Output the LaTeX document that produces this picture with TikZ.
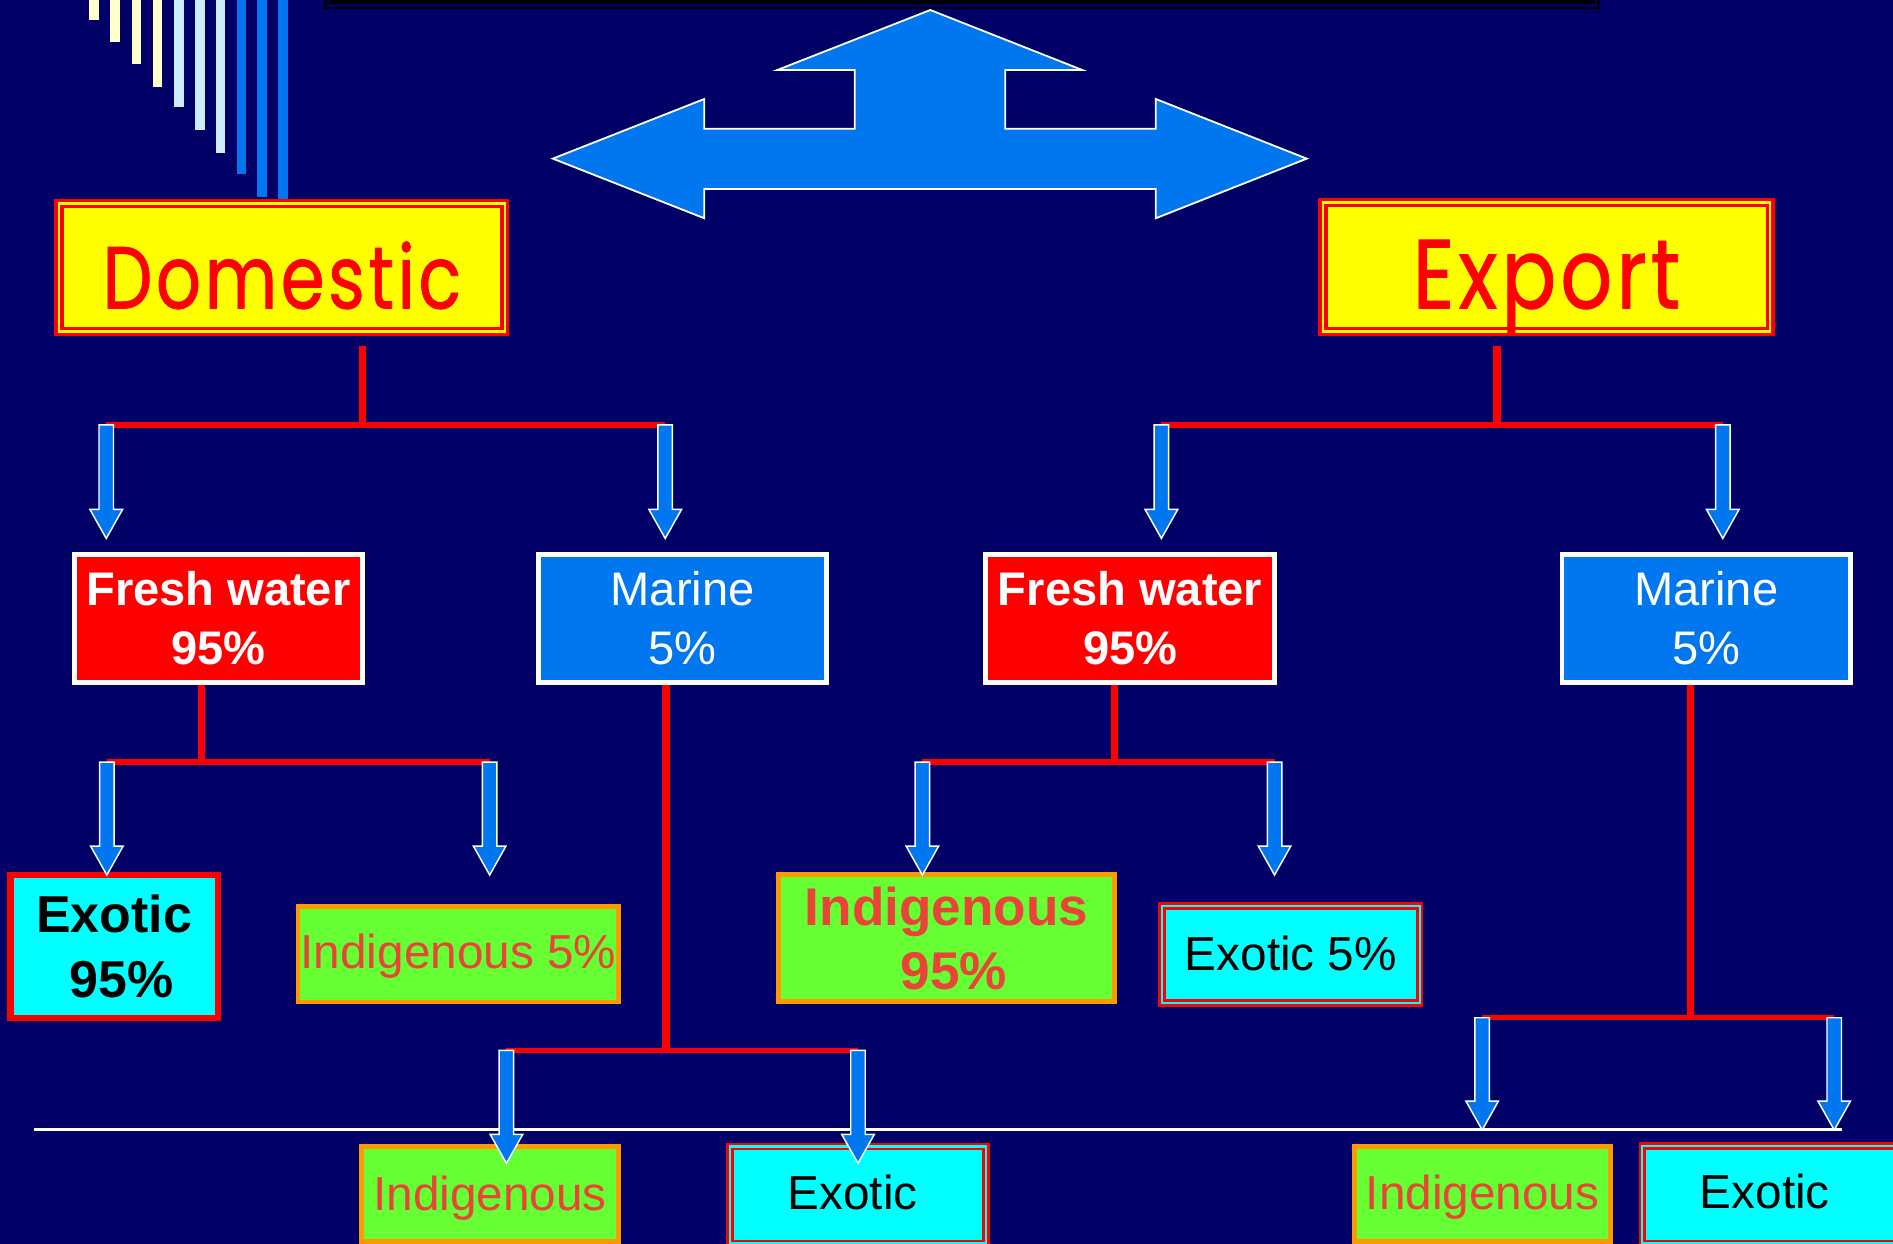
\documentclass[tikz,border=0pt]{standalone}
\usepackage{fontspec}
\setmainfont{Liberation Sans}
\newfontfamily\comicfont[FakeBold=1,LetterSpace=5]{Poppins}
\usepackage{graphicx}
\usetikzlibrary{calc}
\definecolor{navybg}{RGB}{0,0,102}
\definecolor{ablue}{RGB}{0,119,238}
\definecolor{pred}{RGB}{255,0,0}
\definecolor{pcyan}{RGB}{0,255,255}
\definecolor{pgreen}{RGB}{102,255,51}
\definecolor{porange}{RGB}{255,153,0}
\definecolor{itext}{RGB}{232,68,56}
\definecolor{pyellow}{RGB}{255,255,0}
\definecolor{barY}{RGB}{255,255,204}
\definecolor{barB}{RGB}{204,236,255}
\newcommand\blockarrow[2]{\filldraw[blockarr] ($(#1)+(-6,0)$) -- ($(#2)+(-6,-24)$) -- ($(#2)+(-13.5,-24)$) -- (#2) -- ($(#2)+(13.5,-24)$) -- ($(#2)+(6,-24)$) -- ($(#1)+(6,0)$) -- cycle;}
\begin{document}
\begin{tikzpicture}[x=1pt,y=-1pt,
  blockarr/.style={fill=ablue, draw=white, line width=1.2pt, line join=miter},
  redv/.style={draw=pred, line width=6pt},
  redh/.style={draw=pred, line width=4.5pt},
  titlebox/.style={draw=pred, double=pyellow, line width=2.7pt, double distance=2.2pt, fill=pyellow, inner sep=0pt, text=pred},
  fwbox/.style={draw=white, line width=4pt, fill=pred, inner sep=0pt, minimum width=239pt, minimum height=106.4pt, text=white, align=center, font=\fontsize{39}{48.5}\selectfont\bfseries},
  marbox/.style={fwbox, fill=ablue, font=\fontsize{39}{48.5}\selectfont},
  exobox/.style={draw=pred, line width=5pt, fill=pcyan, inner sep=0pt, text=black, align=center, font=\fontsize{43}{54}\selectfont\bfseries},
  indbox/.style={draw=porange, line width=4pt, fill=pgreen, inner sep=0pt, text=itext, font=\fontsize{39.5}{47}\selectfont},
  exodbl/.style={draw=pred, double=pcyan, line width=2.2pt, double distance=1.8pt, fill=pcyan, inner sep=0pt, text=black, font=\fontsize{39.5}{47}\selectfont}
]
\useasboundingbox (0,0) rectangle (1568,1030);
\clip (0,0) rectangle (1568,1030);
\fill[navybg] (0,0) rectangle (1568,1030);

% decorative bars
\foreach \xc/\yb/\col in {78/16.6/barY, 95/34.8/barY, 113/52.8/barY, 130.5/72/barY,
  148/89/barB, 165.5/107.5/barB, 182.5/127/barB,
  200/144/ablue, 217/163/ablue, 234.5/168/ablue}
  \fill[\col] (\xc-4,-5) rectangle (\xc+4,\yb);

% top black bar
\fill[black] (268.5,-10) rectangle (1325,7.7);
\draw[navybg, line width=2pt] (271.7,-10) rectangle (1321.8,4.6);

% big three-way arrow
\filldraw[fill=ablue, draw=white, line width=1.5pt, line join=miter]
  (457.9,131.4) -- (583.4,82) -- (583.4,106.6) -- (708,106.6) -- (708,58)
  -- (643.8,58) -- (770.6,8.3) -- (896.5,58) -- (832.7,58) -- (832.7,106.6)
  -- (957.3,106.6) -- (957.3,82) -- (1082.4,131.4) -- (957.3,180.8)
  -- (957.3,156.5) -- (583.4,156.5) -- (583.4,180.8) -- cycle;

% title boxes
\node[titlebox, minimum width=369.4pt, minimum height=105.9pt, text height=67.6pt, text depth=0pt] (dom) at (233.5,221.7) {\resizebox{297pt}{55.5pt}{\comicfont Domestic}};
\node[titlebox, minimum width=370.4pt, minimum height=106.7pt, text height=68.4pt, text depth=0pt] (exp) at (1281,221.2) {\resizebox{221.6pt}{56.6pt}{\comicfont Export}};

% level 2 boxes
\node[fwbox] (fwd) at (180.9,512.2) {Fresh water\\95\%};
\node[marbox] (mad) at (565.4,512.2) {Marine\\5\%};
\node[fwbox] (fwe) at (936.1,512.2) {Fresh water\\95\%};
\node[marbox] (mae) at (1413.3,512.2) {Marine\\5\%};

% level 3 boxes
\node[exobox, minimum width=171.8pt, minimum height=118.4pt] (exd) at (94.6,783.7) {Exotic\\\hspace*{12pt}95\%};
\node[indbox, minimum width=265.6pt, minimum height=79.1pt, text height=23.3pt, text depth=0pt] (ind5) at (379.7,790.35) {Indigenous 5\%};
\node[indbox, minimum width=278pt, minimum height=105.5pt, align=center, font=\fontsize{44}{53}\selectfont\bfseries] (ind95) at (783.95,777) {Indigenous\\\hspace*{12pt}95\%};
\node[exodbl, minimum width=213.3pt, minimum height=80.2pt, text height=25.8pt, text depth=0pt] (exe5) at (1069.25,790.6) {Exotic 5\%};

% bottom boxes
\node[indbox, minimum width=212.3pt, minimum height=78.8pt, text height=26.6pt, text depth=0pt] (indL) at (405.85,989) {Indigenous};
\node[exodbl, minimum width=212pt, minimum height=80.3pt, text height=23.9pt, text depth=0pt] (exL) at (710.7,989.75) {Exotic\hspace*{9pt}};
\node[indbox, minimum width=212.5pt, minimum height=78.8pt, text height=25.4pt, text depth=0pt] (indR) at (1227.95,989) {Indigenous};
\node[exodbl, minimum width=212pt, minimum height=80.6pt, text height=22.6pt, text depth=0pt] (exR) at (1466.3,989.6) {Exotic\hspace*{9pt}};

% junction coordinates
\coordinate (dtop) at (300,287);   \coordinate (dj) at (300,352);
\coordinate (dL) at (88,352);      \coordinate (dR) at (551,352);
\coordinate (dLt) at (88,446);     \coordinate (dRt) at (551,446);
\coordinate (etop) at (1240,287);  \coordinate (ej) at (1240,352);
\coordinate (eL) at (962,352);     \coordinate (eR) at (1427,352);
\coordinate (eLt) at (962,446);    \coordinate (eRt) at (1427,446);

\coordinate (fwdj) at (167,631.3);
\coordinate (fwdL) at (88.5,631.3);  \coordinate (fwdR) at (405.6,631.3);
\coordinate (fwdLt) at (88.5,724.8); \coordinate (fwdRt) at (405.6,724.8);

\coordinate (madj) at (551.6,870);
\coordinate (madL) at (419.5,870);   \coordinate (madR) at (710.7,870);
\coordinate (madLt) at (419.5,963.6); \coordinate (madRt) at (710.7,963.6);

\coordinate (fwej) at (923,631.3);
\coordinate (fweL) at (764,631.3);   \coordinate (fweR) at (1055.7,631.3);
\coordinate (fweLt) at (764,724.8);  \coordinate (fweRt) at (1055.7,724.8);

\coordinate (maej) at (1400,843);
\coordinate (maeL) at (1227.7,843);  \coordinate (maeR) at (1519.3,843);
\coordinate (maeLt) at (1227.7,936); \coordinate (maeRt) at (1519.3,936);

% red connectors
\draw[redv] (dtop) -- (dj);
\draw[redh] (dL) -- (dR);
\draw[redv] (etop) -- (ej);
\draw[redh] (eL) -- (eR);
\draw[redv] (fwd.south -| fwdj) -- (fwdj);
\draw[redh] (fwdL) -- (fwdR);
\draw[redv] (mad.south -| madj) -- (madj);
\draw[redh] (madL) -- (madR);
\draw[redv] (fwe.south -| fwej) -- (fwej);
\draw[redh] (fweL) -- (fweR);
\draw[redv] (mae.south -| maej) -- (maej);
\draw[redh] (maeL) -- (maeR);

% white rule
\coordinate (wl1) at (28,935.4); \coordinate (wl2) at (1525.4,935.4);
\draw[white, line width=2pt] (wl1) -- (wl2);

% blue arrows
\blockarrow{dL}{dLt}
\blockarrow{dR}{dRt}
\blockarrow{eL}{eLt}
\blockarrow{eR}{eRt}
\blockarrow{fwdL}{fwdLt}
\blockarrow{fwdR}{fwdRt}
\blockarrow{madL}{madLt}
\blockarrow{madR}{madRt}
\blockarrow{fweL}{fweLt}
\blockarrow{fweR}{fweRt}
\blockarrow{maeL}{maeLt}
\blockarrow{maeR}{maeRt}
\end{tikzpicture}
\end{document}
